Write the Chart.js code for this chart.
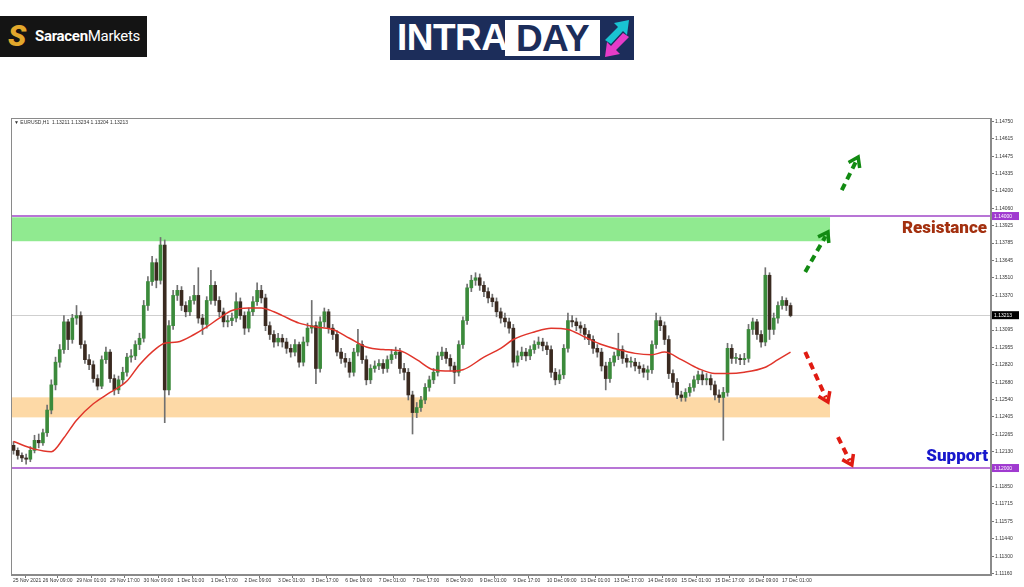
<!DOCTYPE html>
<html>
<head>
<meta charset="utf-8">
<script src="https://cdn.jsdelivr.net/npm/chart.js@4.4.1/dist/chart.umd.min.js"></script>
<style>
  html, body { margin: 0; padding: 0; background: #fff; }
  #wrap { position: relative; width: 1024px; height: 587px; overflow: hidden; }
  #wrap canvas { position: absolute; left: 0; top: 0; }
  .saracen { position: absolute; left: 0; top: 16px; width: 147px; height: 41px; background: #141414; }
  .saracen .s { position: absolute; left: 8px; top: 2px; font: italic 900 30px Roboto, sans-serif; color: #e2a82c; }
  .saracen .t { position: absolute; left: 35px; top: 11px; font: 15px Roboto, sans-serif; color: #fff; letter-spacing: -0.3px; }
  .saracen .t b { font-weight: 700; }
  .intraday { position: absolute; left: 390px; top: 16px; width: 244px; height: 44px; background: #1c2d5a; }
  .intraday .a { position: absolute; left: 7px; top: 1px; font: 700 37px "Liberation Sans", Arial, sans-serif; color: #fff; letter-spacing: -0.5px; }
  .intraday .d { position: absolute; left: 115px; top: 4px; width: 95px; height: 36px; background: #fff; color: #1c2d5a;
                 font: 700 37px "Liberation Sans", Arial, sans-serif; line-height: 38px; text-align: center; letter-spacing: -0.5px; }
  .intraday svg { position: absolute; left: 212px; top: 2px; }
</style>
</head>
<body>
<div id="wrap">
  <canvas id="chart" width="1024" height="587"></canvas>
  <div class="saracen"><span class="s">S</span><span class="t"><b>Saracen</b>Markets</span></div>
  <div class="intraday">
    <span class="a">INTRA</span><span class="d">DAY</span>
    <svg width="30" height="40" viewBox="0 0 30 40">
      <polygon points="3,22 16,9 12,5 27,2 25,17 21,13 9,26" fill="#19c3d2"/>
      <polygon points="27,19 14,32 18,36 3,39 5,24 9,28 21,15" fill="#e63cc8"/>
    </svg>
  </div>
</div>
<script>
// EURUSD H2 candles
const opens = [
  1.1218,1.1214,1.1210,1.1208,1.1207,1.1214,1.1222,1.1220,1.1228,1.1246,
  1.1266,1.1284,1.1294,1.1316,1.1302,1.1319,1.1321,1.1298,1.1286,1.1282,
  1.1271,1.1265,1.1286,1.1292,1.1271,1.1262,1.1270,1.1276,1.1288,1.1289,
  1.1298,1.1303,1.1329,1.1348,1.1363,1.1349,1.1377,1.1262,1.1313,1.1337,
  1.1341,1.1329,1.1324,1.1333,1.1337,1.1319,1.1314,1.1333,1.1345,1.1333,
  1.1324,1.1316,1.1317,1.1319,1.1332,1.1321,1.1311,1.1324,1.1332,1.1341,
  1.1335,1.1313,1.1306,1.1300,1.1303,1.1300,1.1295,1.1292,1.1298,1.1284,
  1.1300,1.1311,1.1313,1.1279,1.1316,1.1324,1.1311,1.1306,1.1292,1.1287,
  1.1284,1.1276,1.1292,1.1298,1.1286,1.1270,1.1279,1.1281,1.1283,1.1279,
  1.1286,1.1290,1.1292,1.1279,1.1276,1.1258,1.1244,1.1248,1.1254,1.1264,
  1.1270,1.1276,1.1289,1.1292,1.1287,1.1281,1.1276,1.1298,1.1317,1.1343,
  1.1349,1.1351,1.1345,1.1340,1.1335,1.1332,1.1324,1.1319,1.1316,1.1311,
  1.1284,1.1289,1.1292,1.1289,1.1294,1.1298,1.1300,1.1297,1.1294,1.1276,
  1.1270,1.1274,1.1295,1.1317,1.1316,1.1313,1.1311,1.1306,1.1302,1.1295,
  1.1292,1.1281,1.1271,1.1284,1.1289,1.1294,1.1287,1.1284,1.1284,1.1281,
  1.1279,1.1276,1.1278,1.1298,1.1317,1.1313,1.1302,1.1275,1.1268,1.1258,
  1.1256,1.1260,1.1264,1.1270,1.1274,1.1270,1.1271,1.1266,1.1258,1.1256,
  1.1260,1.1295,1.1287,1.1287,1.1286,1.1287,1.1310,1.1316,1.1306,1.1300,
  1.1353,1.1310,1.1319,1.1329,1.1333,1.1329
];
const highs = [
  1.1221,1.1216,1.1212,1.1211,1.1217,1.1226,1.1227,1.1231,1.1250,1.1270,
  1.1288,1.1298,1.1321,1.1318,1.1322,1.1329,1.1324,1.1301,1.1290,1.1285,
  1.1274,1.1289,1.1296,1.1294,1.1274,1.1273,1.1280,1.1291,1.1294,1.1301,
  1.1307,1.1333,1.1352,1.1368,1.1366,1.1383,1.1381,1.1317,1.1341,1.1345,
  1.1344,1.1332,1.1336,1.1345,1.1359,1.1322,1.1336,1.1357,1.1348,1.1336,
  1.1327,1.1321,1.1323,1.1339,1.1335,1.1324,1.1327,1.1336,1.1347,1.1345,
  1.1338,1.1316,1.1309,1.1307,1.1306,1.1303,1.1298,1.1302,1.1300,1.1304,
  1.1315,1.1333,1.1316,1.1320,1.1327,1.1326,1.1314,1.1309,1.1295,1.1291,
  1.1287,1.1295,1.1310,1.1301,1.1289,1.1282,1.1285,1.1286,1.1286,1.1289,
  1.1294,1.1296,1.1295,1.1283,1.1279,1.1261,1.1252,1.1257,1.1267,1.1273,
  1.1279,1.1292,1.1296,1.1295,1.1290,1.1284,1.1301,1.1320,1.1346,1.1353,
  1.1355,1.1354,1.1348,1.1343,1.1338,1.1335,1.1327,1.1323,1.1319,1.1314,
  1.1293,1.1296,1.1295,1.1297,1.1301,1.1304,1.1303,1.1300,1.1297,1.1279,
  1.1278,1.1298,1.1323,1.1321,1.1319,1.1316,1.1314,1.1309,1.1305,1.1298,
  1.1295,1.1284,1.1287,1.1292,1.1307,1.1297,1.1290,1.1288,1.1287,1.1284,
  1.1282,1.1281,1.1301,1.1323,1.1320,1.1316,1.1305,1.1278,1.1271,1.1261,
  1.1263,1.1267,1.1273,1.1277,1.1277,1.1275,1.1274,1.1269,1.1262,1.1264,
  1.1299,1.1298,1.1291,1.1290,1.1291,1.1314,1.1319,1.1318,1.1309,1.1359,
  1.1355,1.1323,1.1332,1.1336,1.1335,1.1331
];
const lows = [
  1.1211,1.1207,1.1205,1.1203,1.1205,1.1212,1.1216,1.1218,1.1225,1.1243,
  1.1262,1.1280,1.1291,1.1294,1.1299,1.1314,1.1295,1.1283,1.1278,1.1268,
  1.1262,1.1263,1.1283,1.1268,1.1258,1.1259,1.1267,1.1273,1.1284,1.1286,
  1.1294,1.1300,1.1325,1.1345,1.1343,1.1346,1.1236,1.1258,1.1310,1.1333,
  1.1325,1.1320,1.1321,1.1330,1.1315,1.1306,1.1311,1.1330,1.1329,1.1320,
  1.1312,1.1312,1.1313,1.1316,1.1318,1.1306,1.1308,1.1321,1.1329,1.1331,
  1.1309,1.1302,1.1296,1.1297,1.1296,1.1291,1.1288,1.1289,1.1280,1.1281,
  1.1297,1.1307,1.1267,1.1276,1.1312,1.1307,1.1302,1.1289,1.1283,1.1280,
  1.1272,1.1273,1.1289,1.1283,1.1266,1.1267,1.1276,1.1278,1.1275,1.1276,
  1.1283,1.1287,1.1275,1.1270,1.1254,1.1227,1.1240,1.1245,1.1251,1.1261,
  1.1267,1.1273,1.1286,1.1283,1.1277,1.1267,1.1273,1.1295,1.1314,1.1340,
  1.1345,1.1341,1.1336,1.1331,1.1328,1.1320,1.1315,1.1312,1.1307,1.1280,
  1.1281,1.1286,1.1285,1.1286,1.1291,1.1295,1.1293,1.1290,1.1272,1.1266,
  1.1267,1.1271,1.1292,1.1312,1.1309,1.1307,1.1302,1.1298,1.1291,1.1288,
  1.1277,1.1262,1.1268,1.1281,1.1286,1.1283,1.1280,1.1280,1.1277,1.1275,
  1.1272,1.1270,1.1275,1.1295,1.1309,1.1298,1.1271,1.1264,1.1255,1.1253,
  1.1253,1.1257,1.1261,1.1267,1.1266,1.1266,1.1262,1.1254,1.1252,1.1222,
  1.1257,1.1283,1.1283,1.1282,1.1282,1.1284,1.1306,1.1302,1.1296,1.1297,
  1.1302,1.1306,1.1315,1.1326,1.1325,1.1320
];
const closes = [
  1.1214,1.1210,1.1208,1.1207,1.1214,1.1222,1.1220,1.1228,1.1246,1.1266,
  1.1284,1.1294,1.1316,1.1302,1.1319,1.1321,1.1298,1.1286,1.1282,1.1271,
  1.1265,1.1286,1.1292,1.1271,1.1262,1.1270,1.1276,1.1288,1.1289,1.1298,
  1.1303,1.1329,1.1348,1.1363,1.1349,1.1377,1.1262,1.1313,1.1337,1.1341,
  1.1329,1.1324,1.1333,1.1337,1.1319,1.1314,1.1333,1.1345,1.1333,1.1324,
  1.1316,1.1317,1.1319,1.1332,1.1321,1.1311,1.1324,1.1332,1.1341,1.1335,
  1.1313,1.1306,1.1300,1.1303,1.1300,1.1295,1.1292,1.1298,1.1284,1.1300,
  1.1311,1.1313,1.1279,1.1316,1.1324,1.1311,1.1306,1.1292,1.1287,1.1284,
  1.1276,1.1292,1.1298,1.1286,1.1270,1.1279,1.1281,1.1283,1.1279,1.1286,
  1.1290,1.1292,1.1279,1.1276,1.1258,1.1244,1.1248,1.1254,1.1264,1.1270,
  1.1276,1.1289,1.1292,1.1287,1.1281,1.1276,1.1298,1.1317,1.1343,1.1349,
  1.1351,1.1345,1.1340,1.1335,1.1332,1.1324,1.1319,1.1316,1.1311,1.1284,
  1.1289,1.1292,1.1289,1.1294,1.1298,1.1300,1.1297,1.1294,1.1276,1.1270,
  1.1274,1.1295,1.1317,1.1316,1.1313,1.1311,1.1306,1.1302,1.1295,1.1292,
  1.1281,1.1271,1.1284,1.1289,1.1294,1.1287,1.1284,1.1284,1.1281,1.1279,
  1.1276,1.1278,1.1298,1.1317,1.1313,1.1302,1.1275,1.1268,1.1258,1.1256,
  1.1260,1.1264,1.1270,1.1274,1.1270,1.1271,1.1266,1.1258,1.1256,1.1260,
  1.1295,1.1287,1.1287,1.1286,1.1287,1.1310,1.1316,1.1306,1.1300,1.1353,
  1.1310,1.1319,1.1329,1.1333,1.1329,1.1321
];

// moving average, read at a few bars
const maBars = [0,5,9,12,15,19,23,27,30,34,36,39,43,46,49,52,56,59,62,64,68,72,76,80,84,88,92,96,100,104,
  107,112,116,119,124,128,132,136,140,144,148,152,155,159,163,167,170,174,179,182,185];
const maValues = [1.1221,1.1215,1.1213,1.1224,1.1238,1.1251,1.1260,1.1269,1.1282,1.1295,
  1.1299,1.1300,1.1306,1.1312,1.1319,1.1325,1.1327,1.1327,1.1324,1.1321,
  1.1315,1.1312,1.1310,1.1303,1.1296,1.1294,1.1293,1.1286,1.1278,1.1277,
  1.1278,1.1288,1.1295,1.1302,1.1308,1.1311,1.1310,1.1304,1.1298,1.1294,
  1.1291,1.1290,1.1292,1.1286,1.1279,1.1275,1.1275,1.1276,1.1280,1.1286,1.1292];

const timeLabels = ["25 Nov 2021","26 Nov 09:00","29 Nov 01:00","29 Nov 17:00","30 Nov 09:00","1 Dec 01:00",
  "1 Dec 17:00","2 Dec 09:00","3 Dec 01:00","3 Dec 17:00","6 Dec 09:00","7 Dec 01:00","7 Dec 17:00",
  "8 Dec 09:00","9 Dec 01:00","9 Dec 17:00","10 Dec 09:00","13 Dec 01:00","13 Dec 17:00","14 Dec 09:00",
  "15 Dec 01:00","15 Dec 17:00","16 Dec 09:00","17 Dec 01:00"];
const priceTicks = ["1.14750","1.14615","1.14475","1.14335","1.14200","1.14060","1.13925","1.13785",
  "1.13645","1.13510","1.13370","1.13095","1.12955","1.12820","1.12680","1.12540","1.12405",
  "1.12265","1.12130","1.11850","1.11715","1.11575","1.11440","1.11300","1.11160"];

const resistance = 1.14000;
const support = 1.12000;
const lastPrice = 1.13213;
const greenZone = [1.13800, 1.13990];
const orangeZone = [1.12402, 1.12561];
const zoneEnd = 194.4;
const arrows = [
  { from: [188.5, 1.13556], to: [193.9, 1.13873], color: "#128a12" },
  { from: [197.2, 1.14206], to: [201.1, 1.14468], color: "#128a12" },
  { from: [188.5, 1.12921], to: [193.9, 1.12524], color: "#e01b12" },
  { from: [196.3, 1.12246], to: [199.6, 1.12024], color: "#e01b12" }
];

const bull = "#3b8a3b", bear = "#3a2a20", wick = "#707070";

function drawArrow(ctx, x1, y1, x2, y2, color) {
  const ang = Math.atan2(y2 - y1, x2 - x1);
  ctx.save();
  ctx.strokeStyle = color;
  ctx.lineWidth = 4;
  ctx.setLineDash([7, 5]);
  ctx.beginPath();
  ctx.moveTo(x1, y1);
  ctx.lineTo(x2 - 5 * Math.cos(ang), y2 - 5 * Math.sin(ang));
  ctx.stroke();
  ctx.setLineDash([]);
  ctx.lineWidth = 3.5;
  ctx.beginPath();
  ctx.moveTo(x2 - 11 * Math.cos(ang - 0.6), y2 - 11 * Math.sin(ang - 0.6));
  ctx.lineTo(x2, y2);
  ctx.lineTo(x2 - 11 * Math.cos(ang + 0.6), y2 - 11 * Math.sin(ang + 0.6));
  ctx.stroke();
  ctx.restore();
}

function axisBox(ctx, ypx, text, fill, left) {
  ctx.fillStyle = fill;
  ctx.fillRect(left + 1, ypx - 4, 27, 8);
  ctx.fillStyle = "#fff";
  ctx.font = "5px 'Liberation Sans', Arial";
  ctx.textAlign = "left";
  ctx.textBaseline = "middle";
  ctx.fillText(text, left + 3, ypx + 0.5);
}

const overlay = {
  id: "overlay",
  beforeDatasetsDraw(chart) {
    const { ctx, chartArea: a, scales: { x, y } } = chart;
    ctx.save();
    ctx.beginPath();
    ctx.rect(a.left, a.top, a.width, a.height);
    ctx.clip();
    const x0 = a.left + 1, x1 = x.getPixelForValue(zoneEnd);
    let t = y.getPixelForValue(greenZone[1]), b = y.getPixelForValue(greenZone[0]);
    ctx.fillStyle = "#90ea90";
    ctx.fillRect(x0, t, x1 - x0, b - t);
    t = y.getPixelForValue(orangeZone[1]); b = y.getPixelForValue(orangeZone[0]);
    ctx.fillStyle = "#fdd9a6";
    ctx.fillRect(x0, t, x1 - x0, b - t);

    ctx.strokeStyle = "#cfcfcf";
    ctx.lineWidth = 1;
    const lp = Math.round(y.getPixelForValue(lastPrice)) + 0.5;
    ctx.beginPath(); ctx.moveTo(a.left, lp); ctx.lineTo(a.right, lp); ctx.stroke();

    ctx.strokeStyle = "#a047c8";
    ctx.lineWidth = 1.5;
    [resistance, support].forEach(v => {
      const py = y.getPixelForValue(v);
      ctx.beginPath(); ctx.moveTo(a.left, py); ctx.lineTo(a.right, py); ctx.stroke();
    });
    ctx.restore();
  },
  afterDraw(chart) {
    const { ctx, chartArea: a, scales: { x, y } } = chart;
    ctx.save();
    ctx.strokeStyle = "#8a8a8a";
    ctx.lineWidth = 1;
    ctx.strokeRect(a.left + 0.5, a.top + 0.5, a.width - 1, a.height - 1);

    arrows.forEach(ar => drawArrow(ctx,
      x.getPixelForValue(ar.from[0]), y.getPixelForValue(ar.from[1]),
      x.getPixelForValue(ar.to[0]), y.getPixelForValue(ar.to[1]), ar.color));

    ctx.textAlign = "right";
    ctx.textBaseline = "middle";
    ctx.font = "900 17px Roboto, 'Open Sans', sans-serif";
    ctx.fillStyle = "#a3300f";
    ctx.fillText("Resistance", a.right - 4, y.getPixelForValue(resistance) + 13);
    ctx.fillStyle = "#1717cc";
    ctx.fillText("Support", a.right - 3, y.getPixelForValue(support) - 11);

    ctx.textAlign = "left";
    ctx.fillStyle = "#333";
    ctx.font = "5px 'Liberation Sans', Arial";
    ctx.fillText("\u25BC EURUSD,H1  1.13211 1.13234 1.13204 1.13213", a.left + 3, a.top + 5);

    axisBox(ctx, y.getPixelForValue(resistance), "1.14000", "#a03ad0", a.right);
    axisBox(ctx, y.getPixelForValue(lastPrice), "1.13213", "#000", a.right);
    axisBox(ctx, y.getPixelForValue(support), "1.12000", "#a03ad0", a.right);
    ctx.restore();
  }
};

new Chart(document.getElementById("chart"), {
  type: "bar",
  data: {
    datasets: [
      {
        type: "line",
        data: maBars.map((b, i) => ({ x: b, y: maValues[i] })),
        borderColor: "#e0352b",
        borderWidth: 1.5,
        pointRadius: 0,
        cubicInterpolationMode: "monotone",
        order: 0
      },
      {
        data: closes.map((c, i) => ({ x: i, y: [opens[i], c] })),
        backgroundColor: closes.map((c, i) => c >= opens[i] ? bull : bear),
        barThickness: 3,
        minBarLength: 1,
        grouped: false,
        order: 1
      },
      {
        data: highs.map((h, i) => ({ x: i, y: [lows[i], h] })),
        backgroundColor: wick,
        barThickness: 1,
        grouped: false,
        order: 2
      }
    ]
  },
  options: {
    responsive: false,
    animation: false,
    layout: { padding: { left: 11, top: 118, right: 0, bottom: 0 } },
    plugins: { legend: { display: false }, tooltip: { enabled: false } },
    scales: {
      x: {
        type: "linear",
        min: -0.6,
        max: 232.73,
        offset: false,
        afterFit: s => { s.height = 12; },
        afterBuildTicks: s => {
          s.ticks = timeLabels.map((_, k) => ({ value: k === 0 ? -0.6 : k * 8 - 1.5 }));
        },
        grid: { drawOnChartArea: false, drawTicks: true, tickLength: 3, color: "#777" },
        border: { display: true, color: "#8a8a8a" },
        ticks: {
          autoSkip: false, maxRotation: 0, padding: 0, align: "start", labelOffset: 2,
          color: "#333", font: { family: "'Liberation Sans', Arial", size: 5 },
          callback: (v, i) => timeLabels[i]
        }
      },
      y: {
        position: "right",
        min: 1.11151,
        max: 1.14778,
        afterFit: s => { s.width = 33; },
        afterBuildTicks: s => { s.ticks = priceTicks.map(p => ({ value: parseFloat(p) })); },
        grid: { drawOnChartArea: false, drawTicks: true, tickLength: 3, color: "#777" },
        border: { display: true, color: "#8a8a8a" },
        ticks: {
          padding: 1, color: "#333", font: { family: "'Liberation Sans', Arial", size: 5 },
          callback: (v, i) => priceTicks[i]
        }
      }
    }
  },
  plugins: [overlay]
});
</script>
</body>
</html>
